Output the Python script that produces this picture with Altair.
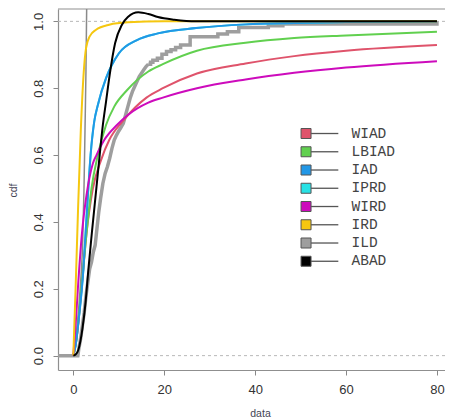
import altair as alt
import pandas as pd

# ---- data ----
series = ["WIAD", "LBIAD", "IAD", "IPRD", "WIRD", "IRD", "ILD", "ABAD"]
colors = ["#DF536B", "#61D04F", "#2297E6", "#28E2E5", "#CD0BBC", "#F5C710", "#9E9E9E", "#000000"]

wiad_x = [0, 0.7, 1.8, 2.9, 4.3, 6.1, 7.9, 10.8, 16.1, 19.7, 27.2, 37.9, 48.6, 60, 80]
wiad_y = [0, 0.05, 0.2, 0.366, 0.5, 0.585, 0.645, 0.70, 0.772, 0.8, 0.844, 0.874, 0.896, 0.912, 0.929]

lbiad_x = [0, 0.6, 1.5, 2.9, 4.0, 5.4, 7.2, 9.0, 11.8, 16.5, 19.7, 27.2, 37.9, 48.6, 60, 80]
lbiad_y = [0, 0.04, 0.16, 0.366, 0.5, 0.6, 0.69, 0.745, 0.794, 0.85, 0.872, 0.912, 0.936, 0.95, 0.958, 0.969]

iad_x = [0, 0.5, 1.2, 2.2, 2.7, 3.3, 3.8, 4.6, 5.4, 7.2, 8.5, 10, 14, 18.6, 27, 38, 48.6, 60, 80]
iad_y = [0, 0.03, 0.11, 0.256, 0.366, 0.5, 0.6, 0.7, 0.75, 0.83, 0.87, 0.904, 0.944, 0.964, 0.98, 0.991, 0.995, 0.998, 1.0]

# IPRD is hidden underneath IAD in the reference
iprd_x = list(iad_x)
iprd_y = list(iad_y)

wird_x = [0, 0.5, 1.0, 1.9, 2.9, 4.3, 5.1, 6.8, 9.6, 12, 16.5, 19.7, 27.2, 37.9, 48.6, 60, 80]
wird_y = [0, 0.09, 0.2, 0.366, 0.48, 0.575, 0.6, 0.645, 0.69, 0.72, 0.757, 0.772, 0.80, 0.826, 0.846, 0.862, 0.881]

ird_x = [0, 0.5, 1.0, 1.65, 2.3, 2.8, 3.6, 5, 7.9, 12, 20, 80]
ird_y = [0, 0.2, 0.42, 0.675, 0.85, 0.92, 0.955, 0.975, 0.99, 0.997, 1.0, 1.0]

ild_x = [-3.5, 1.0, 1.2, 1.6, 2.0, 2.4, 2.8, 3.2, 3.6, 4.0, 4.4, 4.8, 5.2, 5.6, 6.0, 6.5, 7.0, 7.5,
         8.0, 8.5, 9.0, 9.5, 10.0, 10.5, 11.0, 11.5, 12.0, 12.5, 13.0, 13.5, 14.0, 14.5, 15.0,
         15.5, 16.0, 16.5, 17.0, 17.5, 18.5, 19.5, 20.5, 21.5, 22.5, 23.6, 25.7, 31.8, 33.9,
         36.4, 42.9, 46.1, 80]
ild_y = [0, 0, 0.02, 0.05, 0.09, 0.13, 0.18, 0.22, 0.26, 0.28, 0.31, 0.33, 0.38, 0.43, 0.47, 0.515,
         0.545, 0.565, 0.59, 0.62, 0.645, 0.66, 0.672, 0.683, 0.695, 0.72, 0.745, 0.77, 0.79,
         0.805, 0.82, 0.835, 0.845, 0.855, 0.865, 0.872, 0.878, 0.884, 0.89, 0.902, 0.91,
         0.915, 0.922, 0.929, 0.954, 0.962, 0.969, 0.982, 0.987, 0.992, 1.0]

abad_x = [0, 0.5, 1.1, 2.0, 2.7, 3.3, 4.1, 5.1, 5.8, 6.5, 7.2, 8.0, 9.2, 10.7, 12, 14.3, 16.5, 18.6, 22.2, 27, 80]
abad_y = [0, 0.003, 0.017, 0.08, 0.16, 0.256, 0.37, 0.505, 0.6, 0.69, 0.76, 0.84, 0.935, 0.99, 1.013, 1.027, 1.022, 1.013, 1.005, 1.0, 1.0]

# thin grey near-vertical curve
thin_x = [0, 0.8, 1.5, 2.07, 2.35, 2.57, 2.78, 2.93, 3.0]
thin_y = [0, 0.08, 0.2, 0.345, 0.5, 0.675, 0.85, 1.03, 1.1]

ref_levels = [0, 1]
frame_top = [1.037]
x_ticks = [0, 20, 40, 60, 80]
y_ticks = [0, 0.2, 0.4, 0.6, 0.8, 1.0]
ILD_SPLIT = 16.5

# legend placement (in data units of the plot)
LEG_SQ_X = 51.2
LEG_LINE_X0 = 52.3
LEG_LINE_X1 = 58.3
LEG_TEXT_X = 61.2
LEG_Y0 = 0.6645
LEG_DY = -0.0546

data = {
    "WIAD": (wiad_x, wiad_y), "LBIAD": (lbiad_x, lbiad_y), "IAD": (iad_x, iad_y),
    "IPRD": (iprd_x, iprd_y), "WIRD": (wird_x, wird_y), "IRD": (ird_x, ird_y),
    "ILD": (ild_x, ild_y), "ABAD": (abad_x, abad_y),
}
rows = []
for s, (xs_, ys_) in data.items():
    for a, b in zip(xs_, ys_):
        rows.append({"series": s, "x": a, "y": b})
df = pd.DataFrame(rows)
thin_df = pd.DataFrame({"x": thin_x, "y": thin_y})
ref_df = pd.DataFrame({"y": ref_levels})
top_df = pd.DataFrame({"y": frame_top})
legend_df = pd.DataFrame({"series": series, "i": list(range(len(series)))})

# ---- scales & axes ----
FONT = "Liberation Sans"
xs = alt.Scale(domain=[-3.37, 81.77], nice=False, zero=False)
ys = alt.Scale(domain=[-0.043, 1.037], nice=False, zero=False)
stroke_scale = alt.Scale(domain=series, range=colors)

x_axis = alt.Axis(values=x_ticks, format="d", grid=False, tickSize=5, tickColor="#888",
                  domainColor="#8f8f8f", domainWidth=1.2, labelFont=FONT, labelFontSize=13,
                  labelColor="#333", labelPadding=8, labelFlush=False,
                  title="data", titleFont=FONT, titleFontSize=10.5, titleFontWeight="normal",
                  titleColor="#445", titleX=202, titleY=43, titleBaseline="middle", titleAlign="center")
y_axis = alt.Axis(values=y_ticks, format=".1f", grid=False, tickSize=5, tickColor="#888",
                  domainColor="#8f8f8f", domainWidth=1.2, labelFont=FONT, labelFontSize=13,
                  labelColor="#333", labelAngle=270, labelAlign="center", labelBaseline="bottom",
                  labelPadding=8, labelFlush=False,
                  title="cdf", titleFont=FONT, titleFontSize=10.5, titleFontWeight="normal",
                  titleColor="#445", titleAngle=270, titleX=-45, titleY=181,
                  titleBaseline="middle", titleAlign="center")

X = lambda f="x:Q": alt.X(f, scale=xs, axis=x_axis)
Y = lambda f="y:Q": alt.Y(f, scale=ys, axis=y_axis)

rules = alt.Chart(ref_df).mark_rule(color="#b8b8b8", strokeDash=[3, 3], strokeWidth=1).encode(y=Y())
top_frame = alt.Chart(top_df).mark_rule(color="#8f8f8f", strokeWidth=1.2).encode(y=Y())


def series_layer(name, width=2.0, interp="monotone", filt=None):
    base = alt.Chart(df).transform_filter(alt.datum.series == name)
    if filt is not None:
        base = base.transform_filter(filt)
    return base.mark_line(strokeWidth=width, interpolate=interp, clip=True).encode(
        x=X(), y=Y(),
        stroke=alt.Stroke("series:N", scale=stroke_scale, legend=None),
    )


ild_low = series_layer("ILD", width=3.5, interp="linear", filt=alt.datum.x <= ILD_SPLIT)
ild_high = series_layer("ILD", width=3.5, interp="step-after", filt=alt.datum.x >= ILD_SPLIT)
thin = alt.Chart(thin_df).mark_line(color="#8a8a8a", strokeWidth=1.5, interpolate="monotone",
                                    clip=True).encode(x=X(), y=Y())

curve_layers = [series_layer(n) for n in ["IPRD", "WIAD", "LBIAD", "IAD", "WIRD", "IRD", "ABAD"]]

# ---- legend drawn inside the plot ----
leg_base = alt.Chart(legend_df).transform_calculate(
    ly=f"{LEG_Y0} + {LEG_DY} * datum.i",
    lx0=f"{LEG_SQ_X}", lx1=f"{LEG_LINE_X0}", lx2=f"{LEG_LINE_X1}", lxt=f"{LEG_TEXT_X}",
)
leg_lines = leg_base.mark_rule(color="#555", strokeWidth=1.3).encode(
    x=X("lx1:Q"), x2="lx2:Q", y=Y("ly:Q"))
leg_squares = leg_base.mark_square(size=100, opacity=1, stroke="#555", strokeWidth=1).encode(
    x=X("lx0:Q"), y=Y("ly:Q"),
    fill=alt.Fill("series:N", scale=alt.Scale(domain=series, range=colors), legend=None))
leg_text = leg_base.mark_text(align="left", baseline="middle", font="Liberation Mono",
                              fontSize=14.5, color="#444").encode(
    x=X("lxt:Q"), y=Y("ly:Q"), text="series:N")

chart = alt.layer(rules, top_frame, ild_low, ild_high, thin, *curve_layers,
                  leg_lines, leg_squares, leg_text).properties(
    width=387, height=361,
    padding={"left": 50, "top": 1, "right": 0, "bottom": 49},
    autosize=alt.AutoSizeParams(type="none"),
).configure_view(stroke=None)

chart.save("out.html", embed_options={"renderer": "svg", "actions": False})
